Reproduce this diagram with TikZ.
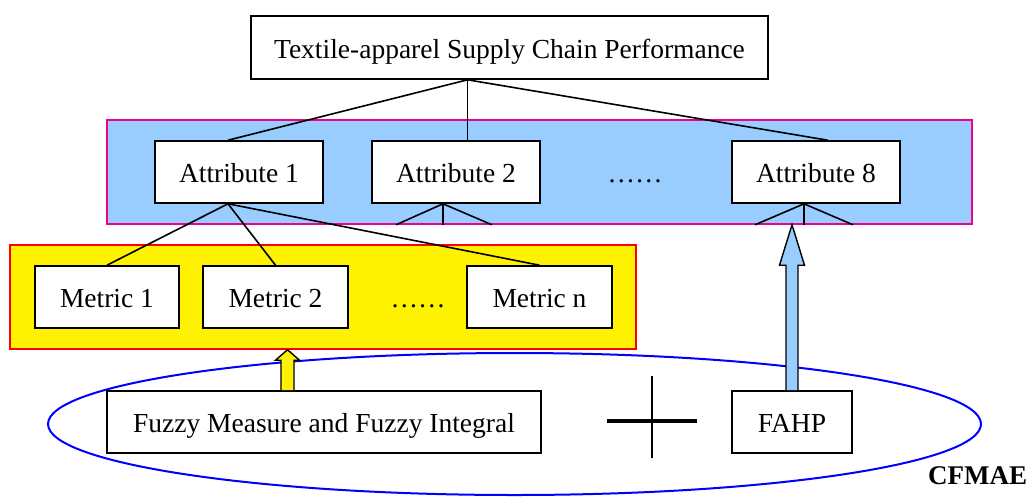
\documentclass[tikz,border=0pt]{standalone}
\usepackage{fontspec}
\setmainfont{Liberation Serif}
\usetikzlibrary{calc}
\definecolor{bandblue}{HTML}{99CCFF}
\begin{document}
\begin{tikzpicture}[x=1pt,y=-1pt,
  txt/.style={font=\fontsize{27.5}{33}\selectfont, inner sep=0pt, text height=23pt, text depth=2pt},
  box/.style={txt, draw=black, line width=1.6pt, fill=white},
  conn/.style={line width=1.6pt, draw=black},
  panel/.style={inner sep=0pt, line width=1.5pt},
  fat/.style={line width=1.4pt, draw=black, line join=miter}]
\useasboundingbox (0,0) rectangle (1033,496);
% panels
\node[panel, draw=magenta, fill=bandblue, minimum width=865pt, minimum height=104pt] (band) at (539.5,172) {};
\node[panel, draw=red, fill=yellow, minimum width=626pt, minimum height=104pt] (ypanel) at (323,297) {};
\draw[blue, line width=2pt] (514.5,424) ellipse [x radius=466.5, y radius=71];
% nodes
\node[box, minimum width=517pt, minimum height=63pt] (top) at (509.5,47.5) {Textile-apparel Supply Chain Performance};
\node[box, minimum width=168pt, minimum height=62pt] (a1) at (239,172) {Attribute 1};
\node[box, minimum width=168pt, minimum height=62pt] (a2) at (456,172) {Attribute 2};
\node[txt] (adots) at (635,172) {……};
\node[box, minimum width=168pt, minimum height=62pt] (a8) at (816,172) {Attribute 8};
\node[box, minimum width=144pt, minimum height=62pt] (m1) at (107,297) {Metric 1};
\node[box, minimum width=145pt, minimum height=62pt] (m2) at (275.5,297) {Metric 2};
\node[txt] (mdots) at (418,297) {……};
\node[box, minimum width=145pt, minimum height=62pt] (mn) at (539.5,297) {Metric n};
\node[box, minimum width=434pt, minimum height=62pt] (fuzzy) at (324,422) {Fuzzy Measure and Fuzzy Integral};
\node[box, minimum width=120pt, minimum height=62pt] (fahp) at (792,422) {FAHP};
\node[font=\fontsize{27}{32}\selectfont\bfseries, inner sep=0pt, anchor=base west] (cf) at (928,484) {CFMAE};
% plus sign
\coordinate (pc) at (652,421);
\draw[line width=4pt] ($(pc)+(-45,0)$) -- ($(pc)+(45,0)$);
\draw[line width=2pt] ($(pc)+(0,-45)$) -- ($(pc)+(0,37)$);
% connectors from top
\draw[conn] ([xshift=-42pt]top.south) -- ([xshift=-11pt]a1.north);
\draw[conn] ([xshift=-42pt]top.south) -- ([xshift=11.5pt]a2.north);
\draw[conn] ([xshift=-42pt]top.south) -- ([xshift=11.7pt]a8.north);
% attribute 1 to metrics
\draw[conn] ([xshift=-11pt]a1.south) -- (m1.north);
\draw[conn] ([xshift=-11pt]a1.south) -- (m2.north);
\draw[conn] ([xshift=-11pt]a1.south) -- (mn.north);
% fans under attribute 2 and 8
\coordinate (f2) at ([xshift=-13pt]a2.south);
\draw[conn] ($(f2)+(-47,21)$) -- (f2) -- ($(f2)+(49,21)$);
\draw[conn] (f2) -- ($(f2)+(0,21)$);
\coordinate (f8) at ([xshift=-12pt]a8.south);
\draw[conn] ($(f8)+(-49,21)$) -- (f8) -- ($(f8)+(49,21)$);
\draw[conn] (f8) -- ($(f8)+(0,21)$);
% yellow fat arrow
\coordinate (yb) at ([xshift=-36.5pt]fuzzy.north);
\draw[fat, fill=yellow] ($(yb)+(-6.5,0)$) -- ($(yb)+(-6.5,-30)$) -- ($(yb)+(-12,-30)$) -- (yb |- ypanel.south) -- ($(yb)+(12,-30)$) -- ($(yb)+(6.5,-30)$) -- ($(yb)+(6.5,0)$);
% blue fat arrow
\coordinate (bb) at (fahp.north);
\draw[fat, fill=bandblue] ($(bb)+(-6,0)$) -- ($(bb)+(-6,-125)$) -- ($(bb)+(-12.5,-125)$) -- (bb |- band.south) -- ($(bb)+(12.5,-125)$) -- ($(bb)+(6,-125)$) -- ($(bb)+(6,0)$);
\end{tikzpicture}
\end{document}
